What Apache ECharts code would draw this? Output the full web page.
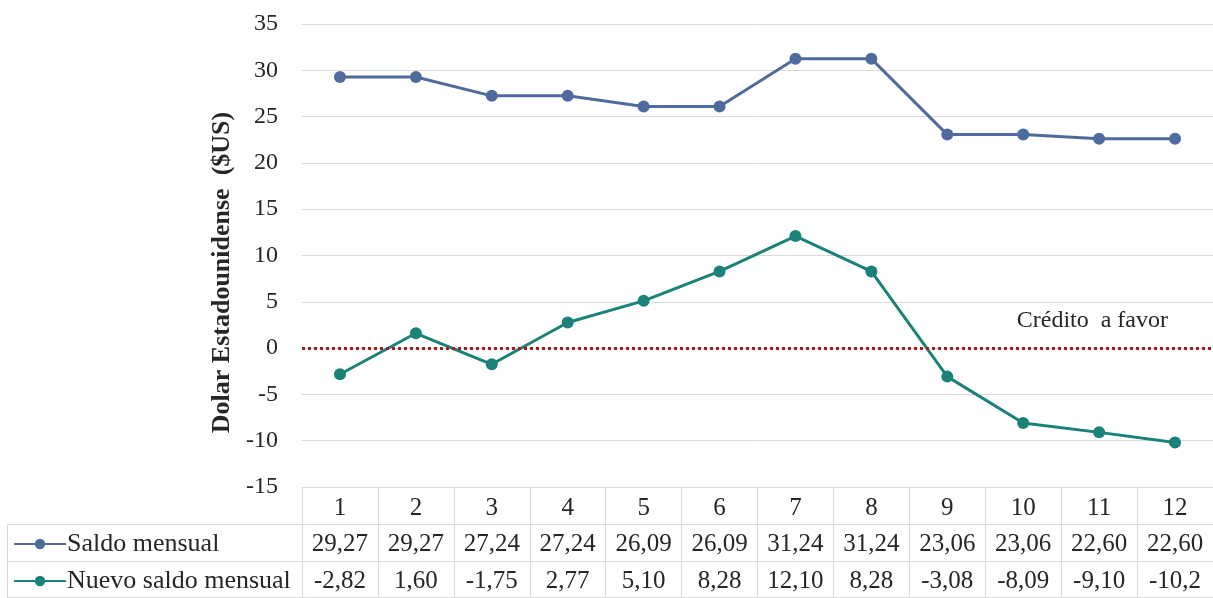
<!DOCTYPE html>
<html>
<head>
<meta charset="utf-8">
<script src="https://cdn.jsdelivr.net/npm/echarts@6/dist/echarts.min.js"></script>
<style>
  html, body { margin: 0; padding: 0; background: #fff; }
  #chart { width: 1213px; height: 598px; }
</style>
</head>
<body>
<div id="chart"></div>
<script>
// Months of the period
const months = ['1', '2', '3', '4', '5', '6', '7', '8', '9', '10', '11', '12'];
// Monthly balance (US dollars)
const saldoMensual = [29.27, 29.27, 27.24, 27.24, 26.09, 26.09, 31.24, 31.24, 23.06, 23.06, 22.60, 22.60];
// New monthly balance after credit (US dollars)
const nuevoSaldo = [-2.82, 1.60, -1.75, 2.77, 5.10, 8.28, 12.10, 8.28, -3.08, -8.09, -9.10, -10.20];
// Value axis ticks
const yMin = -15, yMax = 35, yStep = 5;

const serif = '"Liberation Serif", "Times New Roman", serif';
const gridColor = '#d9d9d9';
const textColor = '#262626';
const blue = '#4f6b9e';
const teal = '#1a8278';

// Table cell text: comma decimal, cell fits five characters
const cell = v => v.toFixed(2).replace('.', ',').slice(0, 5);

const chart = echarts.init(document.getElementById('chart'));

const L = 302, TOP = 24, AXIS_Y = 487, ROW = 37;

chart.setOption({
  animation: false,
  backgroundColor: '#fff',
  textStyle: { fontFamily: serif },
  grid: { left: L, right: 0, top: TOP, bottom: 598 - AXIS_Y, containLabel: false },
  legend: {
    orient: 'vertical',
    left: 13,
    top: 529,
    padding: 0,
    itemGap: 7,
    itemWidth: 52,
    itemHeight: 13,
    textStyle: { fontFamily: serif, fontSize: 26, color: textColor, lineHeight: 30, padding: [0, 0, 0, -4] },
    data: ['Saldo mensual', 'Nuevo saldo mensual']
  },
  xAxis: [
    {
      type: 'category',
      data: months,
      boundaryGap: true,
      axisLine: { show: false, onZero: false },
      axisTick: { show: true, inside: false, length: 598 - AXIS_Y, interval: 0, lineStyle: { color: gridColor, width: 1 } },
      axisLabel: { fontFamily: serif, fontSize: 25, color: textColor, margin: 9, interval: 0 },
      splitLine: { show: false }
    },
    {
      type: 'category',
      data: months,
      position: 'bottom',
      offset: ROW,
      axisLine: { show: false, onZero: false },
      axisTick: { show: false },
      axisLabel: { fontFamily: serif, fontSize: 25, color: textColor, margin: 8, interval: 0,
        formatter: (v, i) => cell(saldoMensual[i]) }
    },
    {
      type: 'category',
      data: months,
      position: 'bottom',
      offset: ROW * 2,
      axisLine: { show: false, onZero: false },
      axisTick: { show: false },
      axisLabel: { fontFamily: serif, fontSize: 25, color: textColor, margin: 8, interval: 0,
        formatter: (v, i) => cell(nuevoSaldo[i]) }
    }
  ],
  yAxis: {
    type: 'value',
    min: yMin,
    max: yMax,
    interval: yStep,
    name: 'Dolar Estadounidense  ($US)',
    nameLocation: 'middle',
    nameRotate: 90,
    nameGap: 66,
    nameTextStyle: { fontFamily: serif, fontSize: 26, fontWeight: 'bold', color: textColor, padding: [0, 34, 0, 0] },
    axisLine: { show: false },
    axisTick: { show: false },
    axisLabel: { fontFamily: serif, fontSize: 24, color: textColor, margin: 24 },
    splitLine: { show: true, lineStyle: { color: gridColor, width: 1 } }
  },
  graphic: [
    // table row separators and left border
    { type: 'line', shape: { x1: 7, y1: AXIS_Y + ROW + 0.5, x2: 1213, y2: AXIS_Y + ROW + 0.5 }, style: { stroke: gridColor, lineWidth: 1 } },
    { type: 'line', shape: { x1: 7, y1: AXIS_Y + ROW * 2 + 0.5, x2: 1213, y2: AXIS_Y + ROW * 2 + 0.5 }, style: { stroke: gridColor, lineWidth: 1 } },
    { type: 'line', shape: { x1: 7, y1: 597.5, x2: 1213, y2: 597.5 }, style: { stroke: gridColor, lineWidth: 1 } },
    { type: 'line', shape: { x1: 7.5, y1: AXIS_Y + ROW, x2: 7.5, y2: 598 }, style: { stroke: gridColor, lineWidth: 1 } }
  ],
  series: [
    {
      name: 'Saldo mensual',
      type: 'line',
      data: saldoMensual,
      symbol: 'circle',
      symbolSize: 12,
      lineStyle: { color: blue, width: 3 },
      itemStyle: { color: blue }
    },
    {
      name: 'Nuevo saldo mensual',
      type: 'line',
      data: nuevoSaldo,
      symbol: 'circle',
      symbolSize: 12,
      lineStyle: { color: teal, width: 3 },
      itemStyle: { color: teal },
      markLine: {
        silent: true,
        symbol: 'none',
        lineStyle: { color: '#9e1f1f', width: 3, type: [3, 3] },
        label: {
          show: true,
          position: 'insideEndTop',
          formatter: 'Crédito  a favor',
          fontFamily: serif,
          fontSize: 24,
          color: textColor,
          padding: [0, 40, 10, 0]
        },
        data: [{ yAxis: 0 }]
      }
    }
  ]
});
</script>
</body>
</html>
